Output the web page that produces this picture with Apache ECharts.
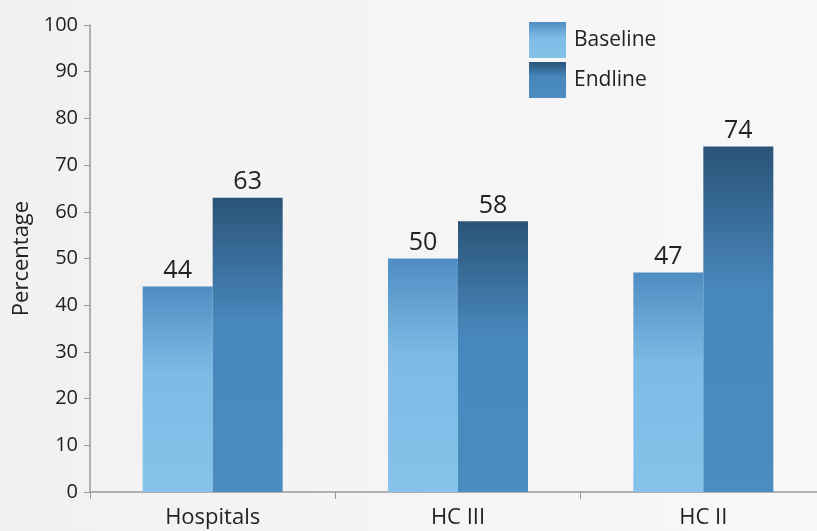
<!DOCTYPE html>
<html>
<head>
<meta charset="utf-8">
<script src="https://cdn.jsdelivr.net/npm/echarts@6/dist/echarts.min.js"></script>
<style>
  html, body { margin: 0; padding: 0; overflow: hidden; width: 817px; height: 531px; }
  /* plot area runs slightly past the right edge of the frame */
  #chart { width: 826px; height: 531px; }
</style>
</head>
<body>
<div id="chart"></div>
<script>
// Facility categories and percentages at the two survey rounds
const categories = ['Hospitals', 'HC III', 'HC II'];
const baseline = [44, 50, 47];
const endline = [63, 58, 74];
const yTicks = { min: 0, max: 100, step: 10 };

const FONT = '"Open Sans", "Noto Sans", sans-serif';

function vGrad(top, mid, bottom) {
  return new echarts.graphic.LinearGradient(0, 0, 0, 1, [
    { offset: 0, color: top },
    { offset: 0.42, color: mid },
    { offset: 1, color: bottom }
  ]);
}

const baselineColor = vGrad('#4f8cc2', '#7dbbe5', '#86c3ea');
const endlineColor = vGrad('#2a5478', '#4887bc', '#4c8cc0');

const chart = echarts.init(document.getElementById('chart'));
chart.setOption({
  backgroundColor: new echarts.graphic.LinearGradient(0, 0, 1, 0, [
    { offset: 0, color: '#f1f1f1' },
    { offset: 1, color: '#f8f8f8' }
  ]),
  textStyle: { fontFamily: FONT },
  legend: {
    orient: 'vertical',
    left: 529,
    top: 22,
    padding: 0,
    itemWidth: 37,
    itemHeight: 36,
    itemGap: 4,
    icon: 'rect',
    textStyle: { fontSize: 21, color: '#222', fontFamily: FONT, padding: [0, 0, 0, 3] },
    data: ['Baseline', 'Endline']
  },
  grid: { left: 90, top: 25, right: 0, bottom: 39, containLabel: false },
  xAxis: {
    type: 'category',
    data: categories,
    axisLine: { lineStyle: { color: '#999', width: 1.5 } },
    axisTick: { show: true, length: 7, lineStyle: { color: '#999' } },
    axisLabel: { fontSize: 22, color: '#222', margin: 15, fontFamily: FONT }
  },
  yAxis: {
    type: 'value',
    min: yTicks.min,
    max: yTicks.max,
    interval: yTicks.step,
    name: 'Percentage',
    nameLocation: 'middle',
    nameGap: 55,
    nameTextStyle: { fontSize: 22, color: '#222', fontFamily: FONT },
    axisLine: { show: true, lineStyle: { color: '#999', width: 1.5 } },
    axisTick: { show: true, length: 6, lineStyle: { color: '#999' } },
    splitLine: { show: false },
    axisLabel: { fontSize: 20, color: '#222', margin: 12, fontFamily: FONT }
  },
  series: [
    {
      name: 'Baseline',
      type: 'bar',
      data: baseline,
      barWidth: 70,
      barGap: '0%',
      itemStyle: { color: baselineColor },
      label: { show: true, position: 'top', fontSize: 25, color: '#222', distance: 3, fontFamily: FONT }
    },
    {
      name: 'Endline',
      type: 'bar',
      data: endline,
      barWidth: 70,
      barGap: '0%',
      itemStyle: { color: endlineColor },
      label: { show: true, position: 'top', fontSize: 25, color: '#222', distance: 3, fontFamily: FONT }
    }
  ]
});
</script>
</body>
</html>
